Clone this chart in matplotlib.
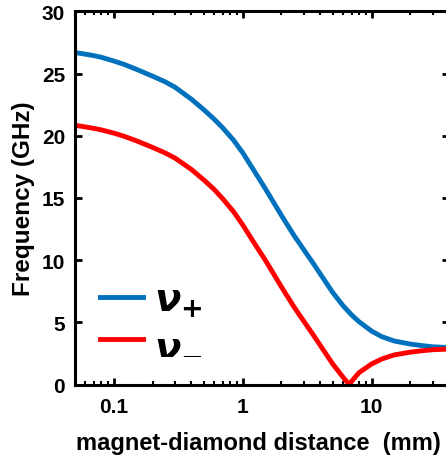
import matplotlib
matplotlib.use("Agg")
import matplotlib.pyplot as plt
from matplotlib.ticker import FixedLocator, FixedFormatter, LogLocator, NullFormatter

plt.rcParams['font.family'] = ['Liberation Sans', 'DejaVu Sans']
plt.rcParams['mathtext.fontset'] = 'dejavusans'

# distance (mm) and frequencies (GHz)
dist_plus = [0.05, 0.06, 0.07, 0.08, 0.1, 0.12, 0.15, 0.2, 0.25, 0.3, 0.4, 0.5, 0.6, 0.7,
             0.85, 1.0, 1.2, 1.5, 1.75, 2.0, 2.5, 3.0, 3.5, 4.0, 5.0, 6.0, 7.0, 8.0,
             10, 12, 15, 20, 25, 30, 40]
nu_plus = [26.7, 26.57, 26.45, 26.32, 26.02, 25.75, 25.35, 24.8, 24.35, 23.9, 22.95, 22.1, 21.35, 20.65,
           19.65, 18.65, 17.35, 15.75, 14.6, 13.6, 12.0, 10.8, 9.8, 8.9, 7.4, 6.35, 5.6, 5.05,
           4.3, 3.85, 3.5, 3.25, 3.12, 3.03, 2.97]

dist_minus = [0.05, 0.06, 0.07, 0.08, 0.1, 0.12, 0.15, 0.2, 0.25, 0.3, 0.4, 0.5, 0.6, 0.7,
              0.85, 1.0, 1.2, 1.5, 1.75, 2.0, 2.5, 3.0, 3.5, 4.0, 5.0, 6.0, 6.7, 7.0, 8.0,
              10, 12, 15, 20, 25, 30, 40]
nu_minus = [20.85, 20.72, 20.6, 20.48, 20.22, 19.97, 19.6, 19.07, 18.63, 18.2, 17.3, 16.45, 15.7, 14.95,
            13.9, 12.85, 11.55, 10.0, 8.85, 7.85, 6.25, 5.05, 4.05, 3.15, 1.65, 0.6, 0.0, 0.25, 0.95,
            1.65, 2.05, 2.38, 2.6, 2.72, 2.8, 2.85]

xticks = [0.1, 1, 10]
xticklabels = ['0.1', '1', '10']
yticks = [0, 5, 10, 15, 20, 25, 30]

fig = plt.figure(figsize=(4.46, 4.56), dpi=100)
ax = fig.add_axes([0.168, 0.1546, 0.839, 0.818])

ax.plot(dist_plus, nu_plus, color='#0072BD', lw=3.5, label=r'$\boldsymbol{\nu}_{\mathbf{+}}$')
ax.plot(dist_minus, nu_minus, color='#FF0000', lw=3.5, label=r'$\boldsymbol{\nu}_{\mathbf{-}}$')

ax.set_xscale('log')
ax.set_xlim(0.05, 40)
ax.set_ylim(0, 30)

ax.xaxis.set_major_locator(FixedLocator(xticks))
ax.xaxis.set_major_formatter(FixedFormatter(xticklabels))
ax.xaxis.set_minor_locator(LogLocator(base=10, subs=range(2, 10)))
ax.xaxis.set_minor_formatter(NullFormatter())
ax.set_yticks(yticks)

for s in ax.spines.values():
    s.set_linewidth(2.2)

ax.tick_params(which='major', direction='in', top=True, right=True, length=5, width=2.0,
               labelsize=15, pad=9)
ax.tick_params(which='minor', direction='in', top=True, right=True, length=3, width=1.5)
ax.tick_params(axis='y', which='major', pad=7)
for lab in ax.get_xticklabels() + ax.get_yticklabels():
    lab.set_fontweight('bold')

ax.set_xlabel('magnet-diamond distance  (mm)', fontsize=17, fontweight='bold')
ax.xaxis.set_label_coords(0.49, -0.125)
ax.set_ylabel('Frequency (GHz)', fontsize=17.5, fontweight='bold', labelpad=5)

leg = ax.legend(loc='center left', bbox_to_anchor=(0.067, 0.168), frameon=False, fontsize=28,
                handlelength=1.1, handletextpad=0.3, labelspacing=0.15,
                borderpad=0, borderaxespad=0)

fig.savefig('out.png', dpi=100)
